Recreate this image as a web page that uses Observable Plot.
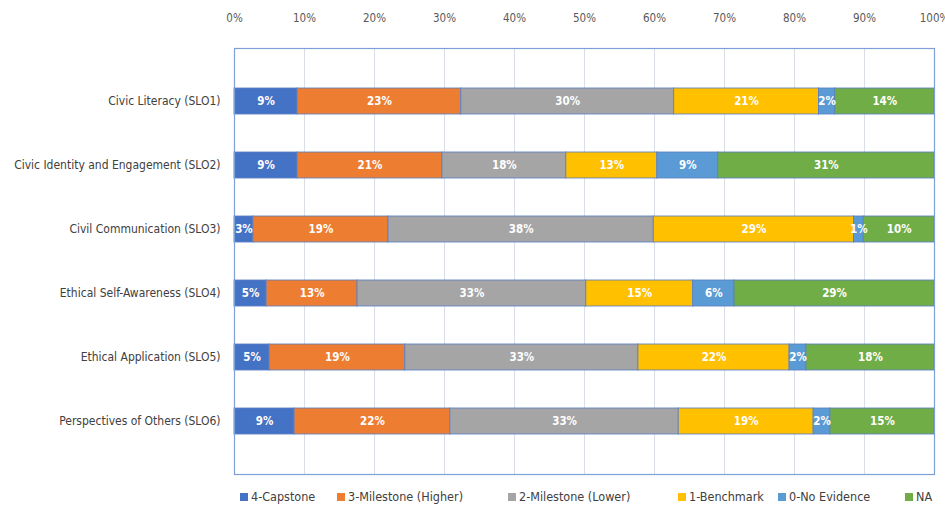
<!DOCTYPE html>
<html>
<head>
<meta charset="utf-8">
<script src="https://cdn.jsdelivr.net/npm/d3@7"></script>
<script src="https://cdn.jsdelivr.net/npm/@observablehq/plot@0.6"></script>
<style>
  html, body { margin: 0; padding: 0; background: #ffffff; }
  #wrap { position: relative; width: 945px; height: 512px; overflow: hidden; font-family: "DejaVu Sans Condensed", "Liberation Sans Narrow", sans-serif; }
  #chart { position: absolute; left: 0; top: 0; }
  #legend { position: absolute; left: 0; top: 489px; width: 945px; height: 18px; }
  .item { position: absolute; top: 0; display: flex; align-items: center; font-size: 12.5px; color: #404040; white-space: nowrap; }
  .sw { width: 8px; height: 8px; margin-right: 3px; }
</style>
</head>
<body>
<div id="wrap">
  <div id="chart"></div>
  <div id="legend"></div>
</div>
<script>
// ---- data ----
const categories = [
  "Civic Literacy (SLO1)",
  "Civic Identity and Engagement (SLO2)",
  "Civil Communication (SLO3)",
  "Ethical Self-Awareness (SLO4)",
  "Ethical Application (SLO5)",
  "Perspectives of Others (SLO6)"
];
const levels = ["4-Capstone", "3-Milestone (Higher)", "2-Milestone (Lower)", "1-Benchmark", "0-No Evidence", "NA"];
const colors = ["#4472C4", "#ED7D31", "#A5A5A5", "#FFC000", "#5B9BD5", "#70AD47"];

const capstone        = [9.0, 9.0, 2.7, 4.6, 5.0, 8.6];
const milestoneHigher = [23.4, 20.7, 19.3, 13.0, 19.4, 22.3];
const milestoneLower  = [30.4, 17.7, 37.9, 32.7, 33.3, 32.7];
const benchmark       = [20.7, 13.0, 28.6, 15.3, 21.6, 19.3];
const noEvidence      = [2.3, 8.7, 1.4, 5.9, 2.4, 2.4];
const notApplicable   = [14.2, 30.9, 10.1, 28.6, 18.3, 14.9];

const xTicks = [0, 0.1, 0.2, 0.3, 0.4, 0.5, 0.6, 0.7, 0.8, 0.9, 1];

// ---- build table ----
const series = [capstone, milestoneHigher, milestoneLower, benchmark, noEvidence, notApplicable];
const rows = [];
categories.forEach((c, i) => {
  levels.forEach((l, j) => {
    rows.push({category: c, level: l, value: series[j][i]});
  });
});

const font = "'DejaVu Sans Condensed', 'Liberation Sans Narrow', sans-serif";

const chart = Plot.plot({
  width: 945,
  height: 480,
  marginLeft: 234,
  marginRight: 11,
  marginTop: 48,
  marginBottom: 6,
  style: {fontFamily: font, background: "transparent", overflow: "visible"},
  x: {domain: [0, 1], axis: null},
  y: {domain: categories, padding: 0.59, axis: null},
  color: {domain: levels, range: colors},
  marks: [
    Plot.ruleX(xTicks.slice(1, -1), {stroke: "#d9dde6", strokeWidth: 1}),
    Plot.axisX(xTicks, {
      anchor: "top",
      label: null,
      tickSize: 0,
      tickPadding: 27,
      tickFormat: d3.format(".0%"),
      fontSize: 11.5,
      fill: "#595959"
    }),
    Plot.axisY({
      anchor: "left",
      label: null,
      tickSize: 0,
      tickPadding: 14,
      fontSize: 12,
      fill: "#404040"
    }),
    Plot.barX(rows, Plot.stackX({
      x: "value",
      y: "category",
      fill: "level",
      order: levels,
      offset: "normalize",
      stroke: "#5a7fc4",
      strokeWidth: 1,
      strokeOpacity: 0.85
    })),
    Plot.text(rows, Plot.stackX({
      x: "value",
      y: "category",
      z: "level",
      order: levels,
      offset: "normalize",
      text: d => Math.round(d.value) + "%",
      fill: "white",
      fontSize: 11.5,
      fontWeight: "bold"
    })),
    Plot.frame({stroke: "#7f9fd8", strokeWidth: 1.2})
  ]
});
document.getElementById("chart").appendChild(chart);

// ---- legend ----
const legendLeft = [240, 337, 508, 678, 778, 905];
const legend = document.getElementById("legend");
levels.forEach((l, j) => {
  const item = document.createElement("div");
  item.className = "item";
  item.style.left = legendLeft[j] + "px";
  const sw = document.createElement("span");
  sw.className = "sw";
  sw.style.background = colors[j];
  const t = document.createElement("span");
  t.textContent = l;
  item.appendChild(sw);
  item.appendChild(t);
  legend.appendChild(item);
});
</script>
</body>
</html>
